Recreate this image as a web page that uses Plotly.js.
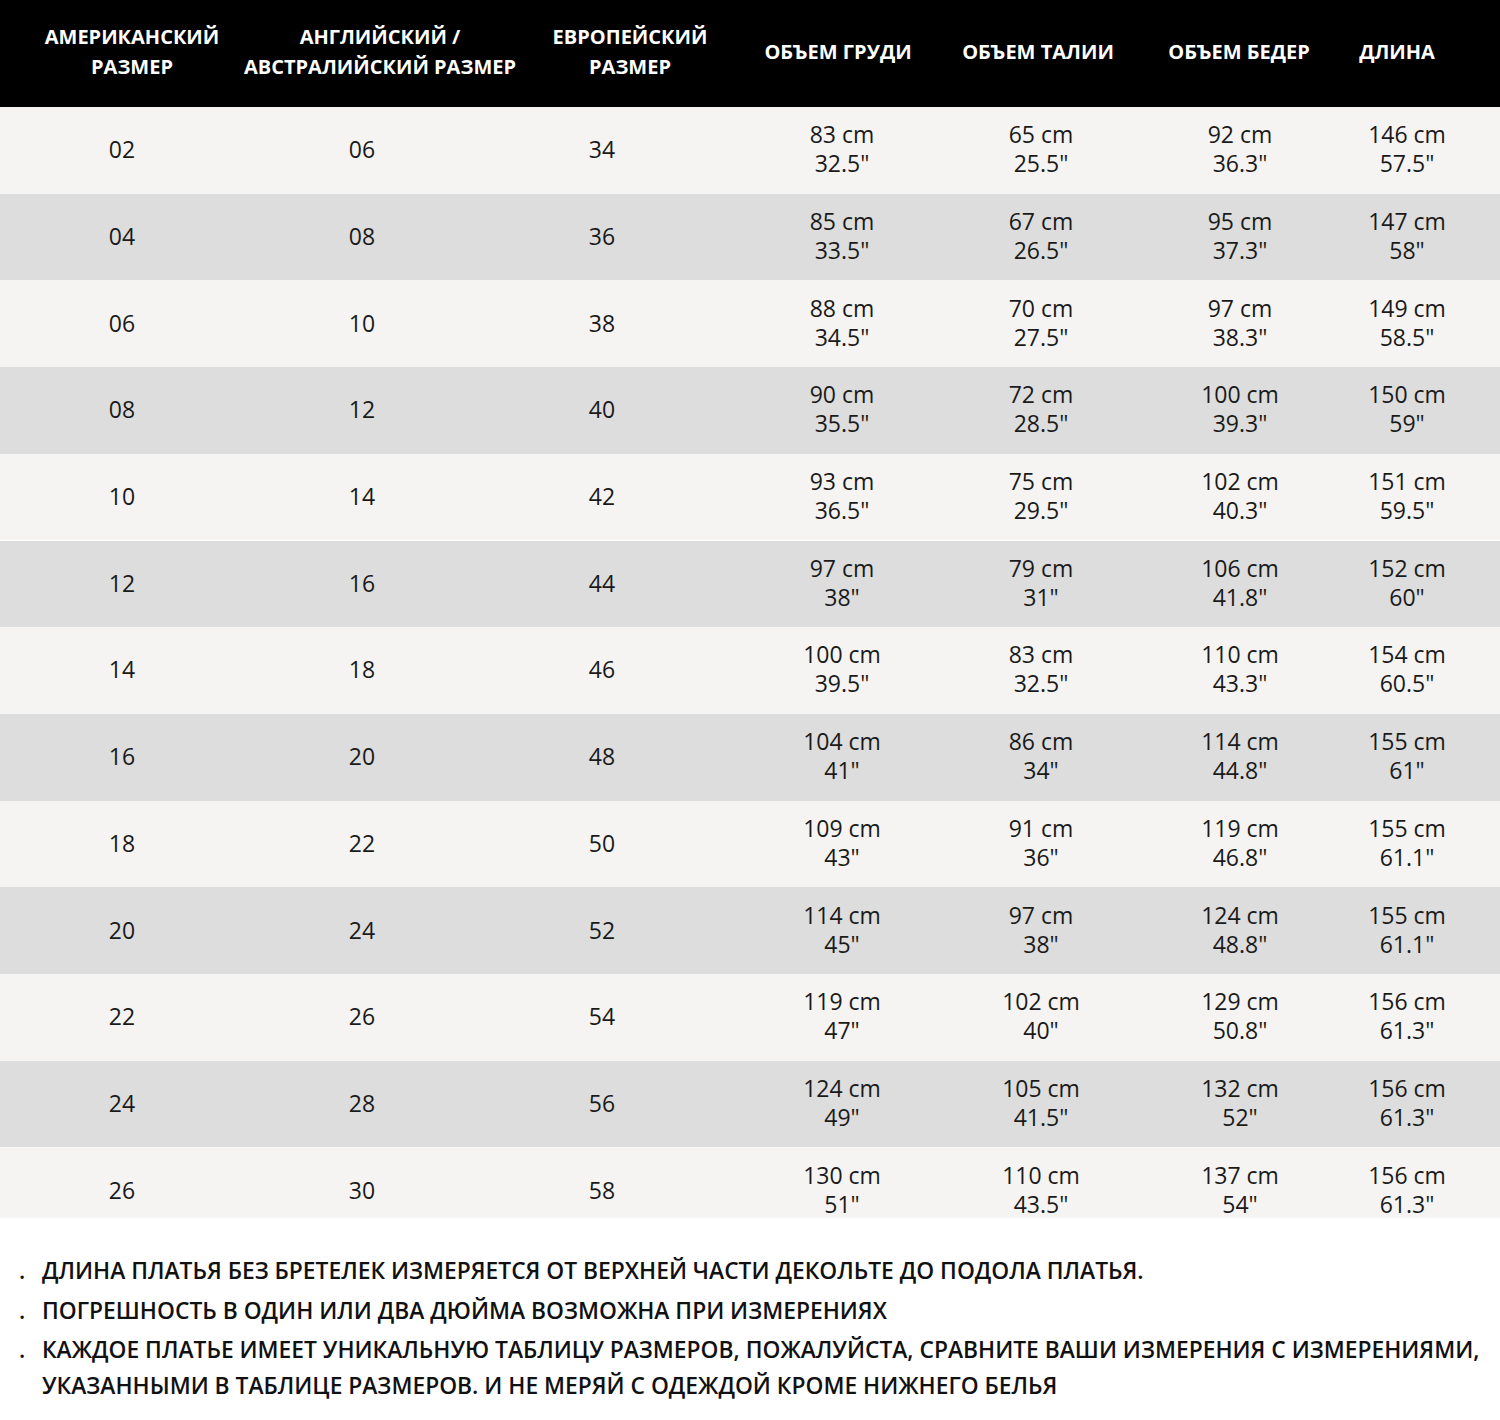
<!DOCTYPE html>
<html>
<head>
<meta charset="utf-8">
<script src="https://cdn.plot.ly/plotly-3.0.1.min.js"></script>
<style>
  html, body { margin: 0; padding: 0; background: #fff; }
</style>
</head>
<body>
<div id="chart" style="width:1500px;height:1420px"></div>
<script>
// header labels, one list per column (line by line)
const headers = [
  ['АМЕРИКАНСКИЙ', 'РАЗМЕР'],
  ['АНГЛИЙСКИЙ /', 'АВСТРАЛИЙСКИЙ РАЗМЕР'],
  ['ЕВРОПЕЙСКИЙ', 'РАЗМЕР'],
  ['ОБЪЕМ ГРУДИ'],
  ['ОБЪЕМ ТАЛИИ'],
  ['ОБЪЕМ БЕДЕР'],
  ['ДЛИНА'],
]

const usSize = ['02', '04', '06', '08', '10', '12', '14', '16', '18', '20', '22', '24', '26']
const ukSize = ['06', '08', '10', '12', '14', '16', '18', '20', '22', '24', '26', '28', '30']
const euSize = ['34', '36', '38', '40', '42', '44', '46', '48', '50', '52', '54', '56', '58']

const bustCm = ['83', '85', '88', '90', '93', '97', '100', '104', '109', '114', '119', '124', '130']
const bustIn = ['32.5', '33.5', '34.5', '35.5', '36.5', '38', '39.5', '41', '43', '45', '47', '49', '51']
const waistCm = ['65', '67', '70', '72', '75', '79', '83', '86', '91', '97', '102', '105', '110']
const waistIn = ['25.5', '26.5', '27.5', '28.5', '29.5', '31', '32.5', '34', '36', '38', '40', '41.5', '43.5']
const hipCm = ['92', '95', '97', '100', '102', '106', '110', '114', '119', '124', '129', '132', '137']
const hipIn = ['36.3', '37.3', '38.3', '39.3', '40.3', '41.8', '43.3', '44.8', '46.8', '48.8', '50.8', '52', '54']
const lengthCm = ['146', '147', '149', '150', '151', '152', '154', '155', '155', '155', '156', '156', '156']
const lengthIn = ['57.5', '58', '58.5', '59', '59.5', '60', '60.5', '61', '61.1', '61.1', '61.3', '61.3', '61.3']

const notes = [
  'ДЛИНА ПЛАТЬЯ БЕЗ БРЕТЕЛЕК ИЗМЕРЯЕТСЯ ОТ ВЕРХНЕЙ ЧАСТИ ДЕКОЛЬТЕ ДО ПОДОЛА ПЛАТЬЯ.',
  'ПОГРЕШНОСТЬ В ОДИН ИЛИ ДВА ДЮЙМА ВОЗМОЖНА ПРИ ИЗМЕРЕНИЯХ',
  'КАЖДОЕ ПЛАТЬЕ ИМЕЕТ УНИКАЛЬНУЮ ТАБЛИЦУ РАЗМЕРОВ, ПОЖАЛУЙСТА, СРАВНИТЕ ВАШИ ИЗМЕРЕНИЯ С ИЗМЕРЕНИЯМИ,',
  'УКАЗАННЫМИ В ТАБЛИЦЕ РАЗМЕРОВ. И НЕ МЕРЯЙ С ОДЕЖДОЙ КРОМЕ НИЖНЕГО БЕЛЬЯ',
]
const noteBullet = [true, true, true, false]

const W = 1500
const H = 1420
const py = (v) => 1 - v / H
const px = (v) => v / W

const HEAD_H = 107
const ROW_H = 86.7
const LAST_ROW_H = 71 // the bottom row is cropped in the original
const clear = 'rgba(0,0,0,0)'
const noLine = {width: 0, color: clear}
const bodyFont = {family: 'Open Sans, sans-serif', size: 23, color: '#1a1a1a'}
const headFont = {family: 'Open Sans, sans-serif', size: 20, color: '#fff', weight: 700}

const rowColors = usSize.map((_, i) => (i % 2 ? '#dcdddc' : '#f5f4f2'))
const blank = (n) => Array.from({length: n}, () => '')
const withUnit = (arr, unit) => arr.map((v) => v + unit)

// backgrounds only: header band + all rows but the last
const fullRows = rowColors.slice(0, -1)
const fills = {
  type: 'table',
  domain: {x: [0, 1], y: [py(1260), 1]},
  columnwidth: [1],
  header: {
    values: [''],
    height: HEAD_H,
    fill: {color: '#000'},
    line: {width: 0, color: '#000'},
  },
  cells: {
    values: [blank(fullRows.length)],
    height: ROW_H,
    fill: {color: [fullRows]},
    line: noLine,
  },
}
const fillsLast = {
  type: 'table',
  domain: {x: [0, 1], y: [py(1147 + 100), py(HEAD_H + ROW_H * fullRows.length)]},
  columnwidth: [1],
  header: {
    values: [''],
    height: LAST_ROW_H,
    fill: {color: rowColors[rowColors.length - 1]},
    line: noLine,
  },
  cells: {values: [[]], fill: {color: clear}, line: noLine},
}

// plotly tables top-align text and left-align <br> lines, so every text line
// gets its own transparent table nudged down by `shift` px.
// column edges (px) are picked so each column centre lands where the original has it
const bodyText = (cols, edges, shift) => ({
  type: 'table',
  domain: {x: [px(edges[0]), px(edges[edges.length - 1])], y: [py(1300), py(shift)]},
  columnwidth: edges.slice(1).map((e, i) => e - edges[i]),
  header: {values: blank(cols.length), height: HEAD_H, fill: {color: clear}, line: noLine},
  cells: {
    values: cols,
    height: ROW_H,
    align: 'center',
    font: bodyFont,
    fill: {color: clear},
    line: noLine,
  },
})

const headText = (labels, edges, shift) => ({
  type: 'table',
  domain: {x: [px(edges[0]), px(edges[edges.length - 1])], y: [py(300), py(shift)]},
  columnwidth: edges.slice(1).map((e, i) => e - edges[i]),
  header: {
    values: labels,
    height: HEAD_H,
    align: 'center',
    font: headFont,
    fill: {color: clear},
    line: noLine,
  },
  cells: {values: labels.map(() => []), fill: {color: clear}, line: noLine},
})

const headA = headers.slice(0, 3)
const headB = headers.slice(3)

const data = [
  fills,
  fillsLast,
  bodyText([usSize, ukSize, euSize], [0, 244, 480, 724], 26),
  bodyText(
    [withUnit(bustCm, ' cm'), withUnit(waistCm, ' cm'), withUnit(hipCm, ' cm'), withUnit(lengthCm, ' cm')],
    [754, 930, 1152, 1328, 1486], 11
  ),
  bodyText(
    [withUnit(bustIn, '"'), withUnit(waistIn, '"'), withUnit(hipIn, '"'), withUnit(lengthIn, '"')],
    [754, 930, 1152, 1328, 1486], 40
  ),
  headText(headA.map((h) => h[0]), [0, 264, 496, 764], 21),
  headText(headA.map((h) => h[1]), [60, 204, 556, 704], 51),
  headText(headB.map((h) => h[0]), [746, 930, 1146, 1332, 1462], 36),
]

const noteY = [1270, 1310, 1349, 1385]
const noteFont = {family: 'Open Sans, sans-serif', size: 22.8, color: '#111', weight: 600}
const annotations = []
notes.forEach((t, i) => {
  annotations.push({
    xref: 'paper', yref: 'paper', x: px(40), y: py(noteY[i]),
    xanchor: 'left', yanchor: 'middle', showarrow: false,
    text: t, font: noteFont,
  })
  if (noteBullet[i]) {
    annotations.push({
      xref: 'paper', yref: 'paper', x: px(22), y: py(noteY[i]),
      xanchor: 'center', yanchor: 'middle', showarrow: false,
      text: '.', font: noteFont,
    })
  }
})

const layout = {
  width: W,
  height: H,
  margin: {l: 0, r: 0, t: 0, b: 0, pad: 0},
  paper_bgcolor: '#fff',
  plot_bgcolor: '#fff',
  showlegend: false,
  annotations: annotations,
}

Plotly.newPlot('chart', data, layout, {displayModeBar: false, staticPlot: true})
</script>
</body>
</html>
